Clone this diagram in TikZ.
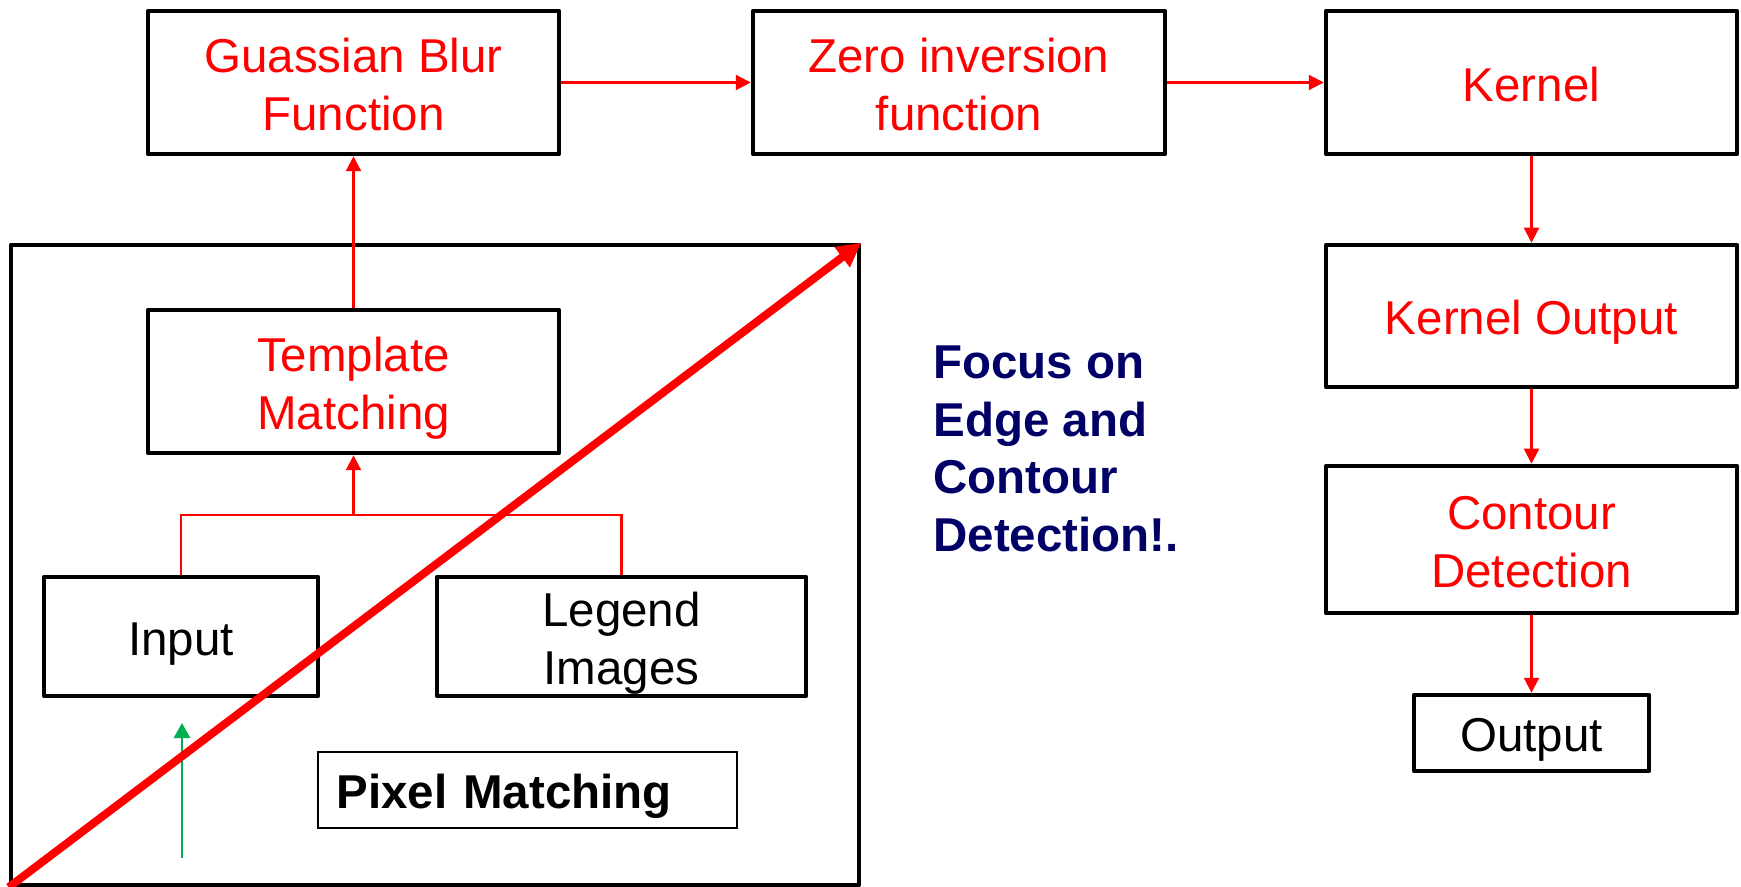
\documentclass[tikz,border=0pt]{standalone}
\usepackage{fontspec}
\setmainfont{Liberation Sans}
\usetikzlibrary{arrows.meta}
\definecolor{pptred}{RGB}{255,0,0}
\definecolor{pptgreen}{RGB}{0,176,80}
\definecolor{pptnavy}{RGB}{0,0,102}
\newcommand\mystrut{\rule[-0.212em]{0pt}{1.117em}}
\newcommand\lnx[1]{\mystrut\raisebox{-1.2pt}[0pt][0pt]{#1}}
\tikzset{
  txt/.style={font=\fontsize{23.75pt}{28.75pt}\selectfont},
  box/.style={txt, draw=black, line width=2.25pt, line join=round, fill=white,
    align=center, inner sep=0pt},
  redbox/.style={box, text=pptred},
  blackbox/.style={box, text=black},
  conn/.style={draw=pptred, line width=1.1pt, -{Triangle[length=7.5pt,width=7.5pt]}},
  redline/.style={draw=pptred, line width=1.1pt},
  greenarrow/.style={draw=pptgreen, line width=1.3pt, -{Triangle[length=7.5pt,width=8pt]}},
  bigarrow/.style={draw=pptred, line width=4pt, -{Triangle[length=12pt,width=12pt]}},
}
\begin{document}
\begin{tikzpicture}[x=0.5pt, y=-0.5pt]
\useasboundingbox (0,0) rectangle (1741,887);

% top row
\node[redbox, minimum width=205.5pt, minimum height=71.5pt] (gb) at (353.5,82.5)
  {\lnx{Guassian Blur}\\\lnx{Function}};
\node[redbox, minimum width=206pt, minimum height=71.5pt] (zi) at (959,82.5)
  {\lnx{Zero inversion}\\\lnx{function}};
\node[redbox, minimum width=205.5pt, minimum height=71.5pt] (kn) at (1531.5,82.5)
  {\lnx{Kernel}};

% right column
\node[redbox, minimum width=205.5pt, minimum height=71pt] (ko) at (1531.5,316)
  {\lnx{Kernel Output}};
\node[redbox, minimum width=205.5pt, minimum height=73.5pt] (cd) at (1531.5,539.5)
  {\lnx{Contour}\\\lnx{Detection}};
\node[blackbox, minimum width=117.5pt, minimum height=38pt] (out) at (1531.5,733)
  {\lnx{Output}};

% connectors (drawn before the big frame)
\coordinate (j) at (353.5,515);
\draw[conn] (gb.east) -- (zi.west);
\draw[conn] (zi.east) -- (kn.west);
\draw[conn] (kn.south) -- (ko.north);
\draw[conn] (ko.south) -- (cd.north);
\draw[conn] (cd.south) -- (out.north);

% pixel matching frame
\node[draw=black, line width=2.25pt, line join=round, minimum width=424pt,
  minimum height=320pt, inner sep=0pt] (frame) at (435,565) {};

\node[redbox, minimum width=205.5pt, minimum height=71.5pt] (tm) at (353.5,381.5)
  {\lnx{Template}\\\lnx{Matching}};
\draw[conn] (tm.north) -- (gb.south);

\node[blackbox, minimum width=137pt, minimum height=59.5pt] (in) at (181,636.5)
  {\lnx{Input}};
\node[blackbox, minimum width=184.5pt, minimum height=59.5pt] (lg) at (621.5,636.5)
  {\lnx{Legend}\\\lnx{Images}};

\draw[redline] (in.north) |- (j) -| (lg.north);
\draw[conn] (j) -- (tm.south);

\node[txt, draw=black, line width=0.75pt, minimum height=38pt, text width=191pt,
  align=left, inner xsep=9.25pt, inner ysep=0pt] (pm) at (527.5,790)
  {\bfseries\lnx{Pixel Matching}};

% green arrow
\coordinate (g0) at (182,858);
\coordinate (g1) at (182,723);
\draw[greenarrow] (g0) -- (g1);

% big diagonal arrow
\draw[bigarrow] (frame.south west) -- (frame.north east);

% side note
\node[txt, text=pptnavy, font=\fontsize{23.75pt}{28.75pt}\selectfont\bfseries,
  align=left, anchor=north west, inner sep=0pt] (note) at (933,333)
  {\lnx{Focus on}\\\lnx{Edge and}\\\lnx{Contour}\\\lnx{Detection!.}};
\end{tikzpicture}
\end{document}
